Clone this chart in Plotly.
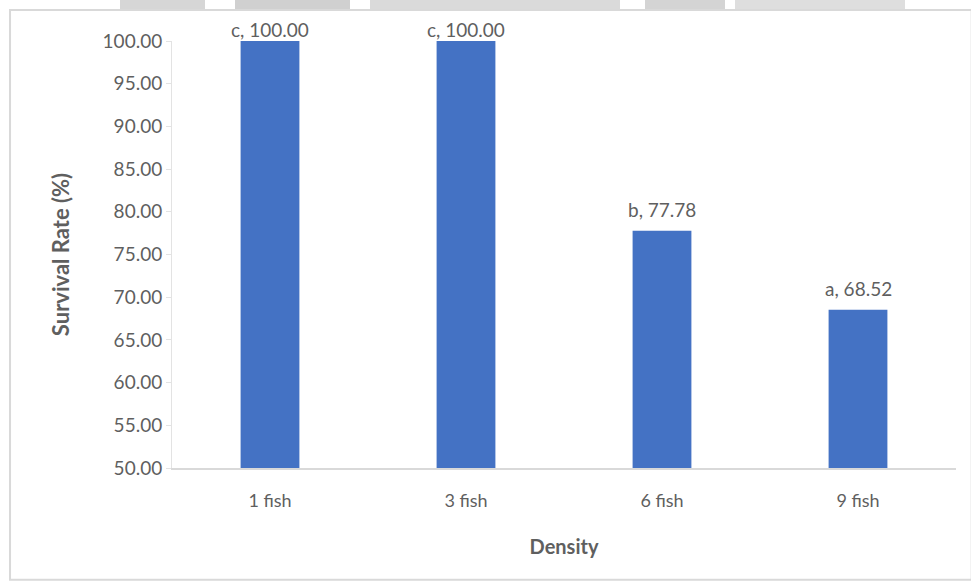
import plotly.graph_objects as go

categories = ["1 fish", "3 fish", "6 fish", "9 fish"]
survival = [100.00, 100.00, 77.78, 68.52]
letters = ["c", "c", "b", "a"]
y_ticks = [50, 55, 60, 65, 70, 75, 80, 85, 90, 95, 100]

FONT = "Lato, Open Sans, sans-serif"
GREY = "#5f5f5f"
Y_MAX = 100

fig = go.Figure()
fig.add_trace(go.Bar(
    x=categories, y=survival, marker=dict(color="#4472C4", line=dict(width=0)),
    width=0.30, cliponaxis=False, hoverinfo="skip",
))

for c, v, l in zip(categories, survival, letters):
    fig.add_annotation(x=c, y=v, text=f"{l}, {v:.2f}", showarrow=False,
                       yanchor="bottom", yshift=(-2 if v >= Y_MAX else 8),
                       font=dict(family=FONT, size=19, color=GREY))

# chart border
fig.add_shape(type="rect", xref="paper", yref="paper",
              x0=-0.2066, x1=1.02, y0=-0.262, y1=1.0726,
              line=dict(color="#d9d9d9", width=2), layer="below")

# faint watermark band at the top edge
for x0, x1, col in [(120, 205, "#d6d6d6"), (235, 350, "#d0d0d0"), (370, 620, "#dadada"),
                    (645, 725, "#d4d4d4"), (735, 905, "#dedede")]:
    fig.add_shape(type="rect", xref="paper", yref="paper",
                  x0=(x0 - 172) / 784, x1=(x1 - 172) / 784,
                  y0=(468 - 9) / 427, y1=(468 + 2) / 427,
                  line=dict(width=0), fillcolor=col, layer="below")

fig.update_layout(
    width=971, height=584,
    margin=dict(l=172, r=15, t=41, b=116),
    paper_bgcolor="white", plot_bgcolor="white",
    showlegend=False,
    font=dict(family=FONT, size=18, color=GREY),
    xaxis=dict(
        showline=True, linecolor="#d9d9d9", linewidth=1.5,
        ticks="", ticklabelstandoff=16, tickfont=dict(size=18, color=GREY),
        title=dict(text="<b>Density</b>", font=dict(size=20, color=GREY), standoff=30),
    ),
    yaxis=dict(
        range=[50, Y_MAX], tickvals=y_ticks, ticktext=[f"{t:.2f}" for t in y_ticks],
        showgrid=False, zeroline=False,
        showline=True, linecolor="#e3e3e3", linewidth=1,
        ticks="outside", ticklen=5, tickcolor="#e3e3e3",
        tickfont=dict(size=19, color=GREY),
        title=dict(text="<b>Survival Rate (%)</b>", font=dict(size=22, color=GREY), standoff=26),
    ),
)

fig.write_html("out.html")
